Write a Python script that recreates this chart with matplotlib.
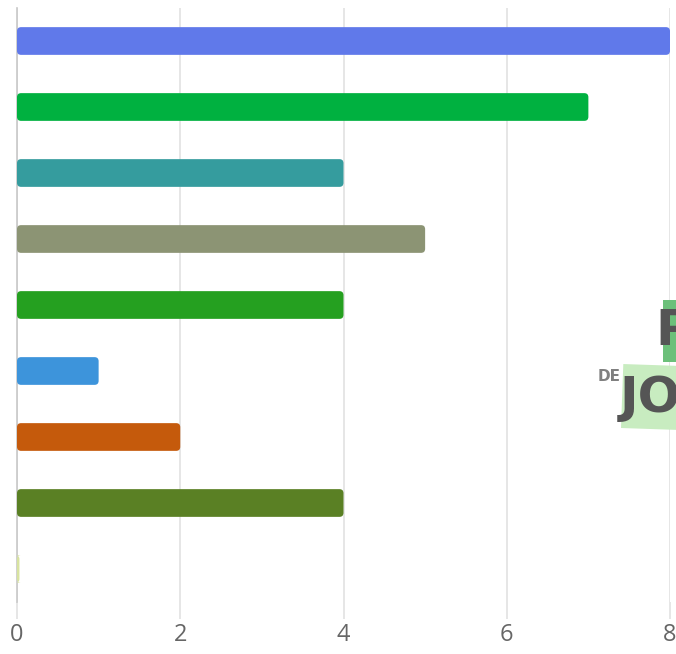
import matplotlib
matplotlib.use('Agg')
import matplotlib.pyplot as plt
from matplotlib.patches import FancyBboxPatch, Rectangle
import numpy as np

# values, top to bottom
values = [8, 7, 4, 5, 4, 1, 2, 4, 0.03]
colors = ['#6079EA', '#00B140', '#359C9E', '#8C9474', '#25A020',
          '#3D94DB', '#C55A0C', '#5A8024', '#D8E3A0']
xticks = [0, 2, 4, 6, 8]

fig = plt.figure(figsize=(6.76, 6.54), dpi=100)
ax = fig.add_axes([17 / 676, 52 / 654, 653 / 676, 594 / 654])

pos = np.arange(len(values))
bars = ax.barh(pos, values, height=0.42, color=colors)

# swap plain bars for slightly rounded ones
for b in bars:
    x, y = b.get_x(), b.get_y()
    w, h = b.get_width(), b.get_height()
    b.set_visible(False)
    r = FancyBboxPatch((x, y), w, h, boxstyle='round,pad=0,rounding_size=0.05',
                       mutation_aspect=81.6 / 66,
                       fc=b.get_facecolor(), ec='none', zorder=3)
    ax.add_patch(r)

ax.set_xlim(0, 8)
ax.set_ylim(len(values) - 0.5, -0.5)
ax.set_xticks(xticks)
ax.set_yticks([])
ax.grid(axis='x', color='#e2e2e2', linewidth=1.2, zorder=0)
ax.set_axisbelow(True)
for s in ['top', 'right', 'bottom']:
    ax.spines[s].set_visible(False)
ax.spines['left'].set_color('#c8c8c8')
ax.spines['left'].set_linewidth(1.2)
ax.tick_params(axis='x', length=12, width=1.2, color='#e2e2e2', pad=3,
               labelsize=17, labelcolor='#666666')
for lbl in ax.get_xticklabels():
    lbl.set_family('Open Sans')

# watermark logo, cut off at the right edge
fig.patches.append(Rectangle((663 / 676, (654 - 362) / 654), 20 / 676, 62 / 654,
                             transform=fig.transFigure, fc='#6cc07a', ec='none', zorder=5))
fig.patches.append(Rectangle((621 / 676, (654 - 428) / 654), 60 / 676, 64 / 654,
                             transform=fig.transFigure, fc='#c8ecc0', ec='none',
                             zorder=5, angle=-2))
fig.text(655 / 676, (654 - 345) / 654, 'P', fontsize=36, fontweight='bold',
         color='#555555', family='DejaVu Sans', zorder=6)
fig.text(620 / 676, (654 - 412) / 654, 'JO', fontsize=36, fontweight='bold',
         color='#555555', family='DejaVu Sans', zorder=6)
fig.text(598 / 676, (654 - 381) / 654, 'DE', fontsize=11, fontweight='bold',
         color='#808080', family='DejaVu Sans', zorder=6)

fig.savefig('out.png', dpi=100)
